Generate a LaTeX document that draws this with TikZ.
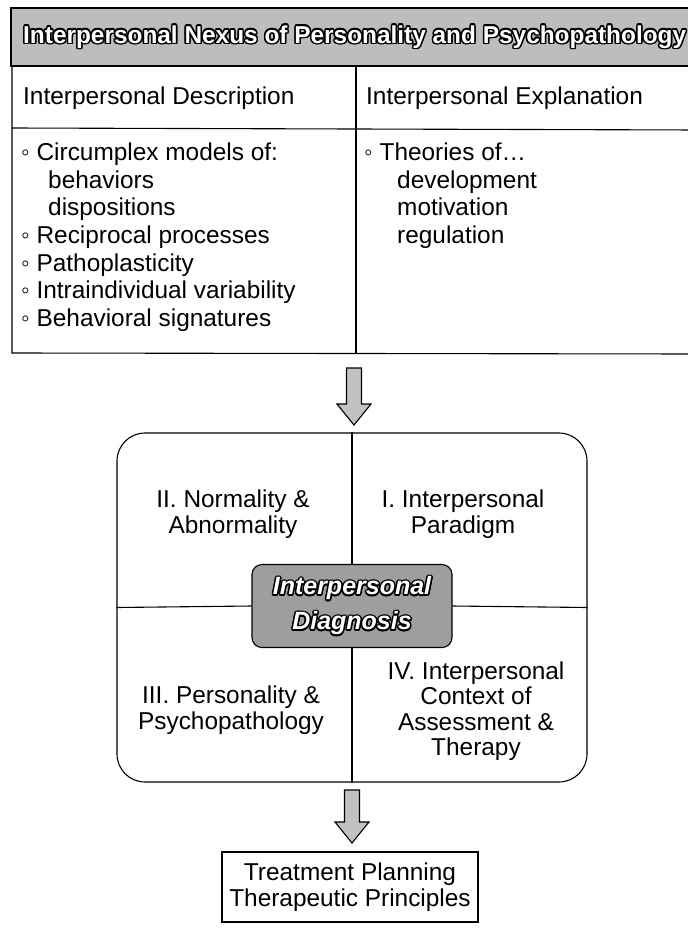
\documentclass[tikz,border=0pt]{standalone}
\usepackage{fontspec}
\setmainfont{Liberation Sans}
\usetikzlibrary{calc}
\definecolor{bargray}{gray}{0.74}
\definecolor{diaggray}{gray}{0.62}
\definecolor{arrowgray}{gray}{0.76}
\newcommand\bodyfont{\fontsize{24.4}{28.3}\selectfont}
\newcommand\boxfont{\fontsize{24.4}{25.5}\selectfont}
% outlined (white with black rim) text
\newcommand\outlinetext[4]{%
  \foreach \ang in {0,30,...,330} {\node[#3,text=black] at ($(#1)+(\ang:1.5)$) {#4};}
  \node[#3,text=white] (#2) at (#1) {#4};}
% block arrow: centre x, top y, tip y
\newcommand\blockarrow[3]{%
  \draw[line width=1.1pt, fill=arrowgray, line join=miter]
    (#1-7.5,#2) -- (#1+7.5,#2) -- (#1+7.5,#3-21) -- (#1+17,#3-21) -- (#1,#3)
    -- (#1-17,#3-21) -- (#1-7.5,#3-21) -- cycle;}
\tikzset{
  line/.style={line width=1.1pt},
  txt/.style={inner sep=0pt, anchor=base west, font=\bodyfont},
  quad/.style={inner sep=0pt, align=center, font=\boxfont},
}
\begin{document}
\begin{tikzpicture}[x=1pt,y=-1pt]
\useasboundingbox (0,0) rectangle (688,935);
\fill[white] (0,0) rectangle (688,935);
% title bar
\draw[line, fill=bargray] (11,8) rectangle (700,66);
\outlinetext{23,37}{title}{anchor=west, inner sep=0pt, font=\fontsize{24.4}{28}\bfseries\selectfont}{Interpersonal Nexus of Personality and Psychopathology}
% table
\draw[line] (12,66) -- (12,353) -- (700,354);
\draw[line] (12,128) -- (700,130);
\draw[line] (356,66) -- (356,353);
\node[txt] (hd1) at (23,104) {Interpersonal Description};
\node[txt] (hd2) at (366,104) {Interpersonal Explanation};
\node[txt] (l1) at (21,160) {◦ Circumplex models of:};
\node[txt] (l2) at (48,188) {behaviors};
\node[txt] (l3) at (48,215) {dispositions};
\node[txt] (l4) at (21,243) {◦ Reciprocal processes};
\node[txt] (l5) at (21,271) {◦ Pathoplasticity};
\node[txt] (l6) at (21,298) {◦ Intraindividual variability};
\node[txt] (l7) at (21,326) {◦ Behavioral signatures};
\node[txt] (r1) at (364,160) {◦ Theories of…};
\node[txt] (r2) at (397,188) {development};
\node[txt] (r3) at (397,215) {motivation};
\node[txt] (r4) at (397,243) {regulation};
% first arrow
\blockarrow{354}{368}{425}
% main box
\node[draw, line, rounded corners=28pt, minimum width=470pt, minimum height=349pt, inner sep=0pt] (box) at (352,607.5) {};
\draw[line] (box.north) -- (box.south);
\node[draw, line, fill=diaggray, rounded corners=10pt, minimum width=200pt, minimum height=83pt, inner sep=0pt] (diag) at (352,606) {};
\draw[line] (box.west) -- (diag.west);
\draw[line] (diag.east) -- (box.east);
\outlinetext{352,606}{diagtext}{quad, font=\fontsize{25}{35}\bfseries\itshape\selectfont}{Interpersonal\\Diagnosis}
\node[quad] (q2) at (233,514) {II. Normality \&\\Abnormality};
\node[quad] (q1) at (463,514) {I. Interpersonal\\Paradigm};
\node[quad] (q3) at (231,710) {III. Personality \&\\Psychopathology};
\node[quad] (q4) at (476,711) {IV. Interpersonal\\Context of\\Assessment \&\\Therapy};
% second arrow
\blockarrow{352}{790}{843}
% final box
\node[draw, line, minimum width=256pt, minimum height=70pt, inner sep=0pt] (treat) at (350,887) {};
\node[quad] (treattext) at (treat.center) {Treatment Planning\\Therapeutic Principles};
\end{tikzpicture}
\end{document}
